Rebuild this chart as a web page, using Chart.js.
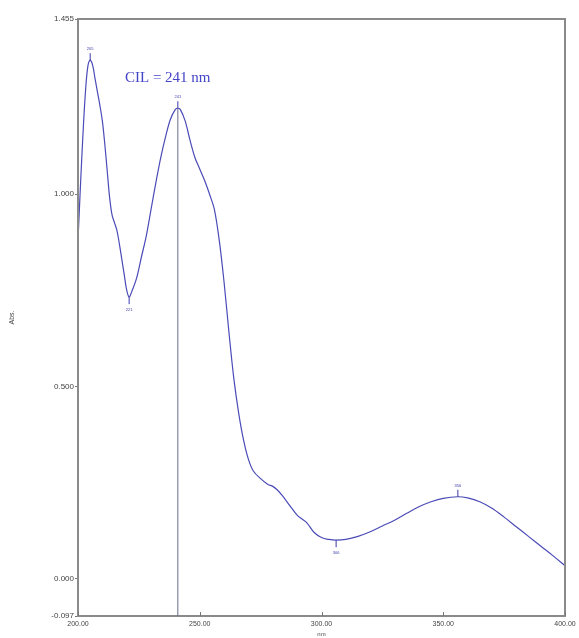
<!DOCTYPE html>
<html>
<head>
<meta charset="utf-8">
<script src="https://cdn.jsdelivr.net/npm/chart.js@4/dist/chart.umd.min.js"></script>
<style>
  html, body { margin: 0; padding: 0; background: #fff; }
  canvas { display: block; }
</style>
</head>
<body>
<canvas id="spec" width="579" height="638"></canvas>
<script>
// wavelength (nm) and absorbance
const wavelengths = [200, 201, 202, 203, 204, 205, 206, 207, 208, 209, 210, 211, 212, 213, 214, 215, 216, 217, 218, 219, 220, 221, 222, 224, 226, 228, 230, 232, 234, 236, 238, 240, 241, 242, 244, 246, 248, 250, 252, 254, 256, 258, 260, 262, 264, 266, 268, 270, 272, 275, 278, 280, 282, 284, 287, 290, 292, 294, 297, 300, 303, 306, 310, 315, 320, 325, 330, 335, 340, 345, 350, 356, 360, 365, 370, 375, 380, 385, 390, 395, 400];
const absorbance = [0.88, 1.02, 1.15, 1.26, 1.33, 1.348, 1.335, 1.30, 1.265, 1.23, 1.19, 1.13, 1.06, 0.99, 0.945, 0.925, 0.905, 0.87, 0.83, 0.79, 0.75, 0.732, 0.745, 0.78, 0.835, 0.89, 0.96, 1.03, 1.095, 1.15, 1.195, 1.22, 1.223, 1.22, 1.19, 1.14, 1.095, 1.065, 1.035, 1.0, 0.96, 0.88, 0.77, 0.64, 0.52, 0.43, 0.36, 0.31, 0.28, 0.26, 0.245, 0.24, 0.23, 0.215, 0.19, 0.165, 0.155, 0.145, 0.12, 0.107, 0.102, 0.10, 0.102, 0.11, 0.122, 0.137, 0.152, 0.17, 0.187, 0.20, 0.209, 0.213, 0.21, 0.20, 0.183, 0.16, 0.135, 0.11, 0.085, 0.06, 0.034];

const peakNm = [205, 241, 356];
const valleyNm = [221, 306];
const markedNm = 241;

const xTicks = [200, 250, 300, 350, 400];
const yTicks = [-0.097, 0, 0.5, 1.0, 1.455];

const points = wavelengths.map((w, i) => ({ x: w, y: absorbance[i] }));
const absAt = w => absorbance[wavelengths.indexOf(w)];

// frame, inward x ticks, peak marks and the 241 nm line
const extras = {
  id: 'extras',
  afterDatasetsDraw(chart) {
    const { ctx, chartArea: a, scales } = chart;
    const sx = scales.x, sy = scales.y;
    ctx.save();
    ctx.strokeStyle = '#8a8a8a';
    ctx.lineWidth = 2;
    ctx.strokeRect(a.left, a.top, a.right - a.left, a.bottom - a.top);

    // x ticks point up into the plot
    ctx.lineWidth = 1;
    ctx.strokeStyle = '#777';
    xTicks.forEach(v => {
      const px = Math.round(sx.getPixelForValue(v)) + 0.5;
      ctx.beginPath(); ctx.moveTo(px, a.bottom); ctx.lineTo(px, a.bottom - 4); ctx.stroke();
    });

    // vertical line at the marked wavelength
    ctx.strokeStyle = '#6a6a8a';
    const vx = sx.getPixelForValue(markedNm);
    ctx.beginPath();
    ctx.moveTo(vx, a.bottom);
    ctx.lineTo(vx, sy.getPixelForValue(absAt(markedNm)));
    ctx.stroke();

    ctx.strokeStyle = '#3a3aa8';
    ctx.fillStyle = '#3a3aa8';
    ctx.font = '4px sans-serif';
    ctx.textAlign = 'center';
    peakNm.forEach(w => {
      const px = sx.getPixelForValue(w), py = sy.getPixelForValue(absAt(w));
      ctx.beginPath(); ctx.moveTo(px, py); ctx.lineTo(px, py - 7); ctx.stroke();
      ctx.fillText(w.toFixed(0), px, py - 10);
    });
    valleyNm.forEach(w => {
      const px = sx.getPixelForValue(w), py = sy.getPixelForValue(absAt(w));
      ctx.beginPath(); ctx.moveTo(px, py); ctx.lineTo(px, py + 7); ctx.stroke();
      ctx.fillText(w.toFixed(0), px, py + 14);
    });

    ctx.fillStyle = '#4444c8';
    ctx.font = '15px "Liberation Serif", serif';
    ctx.textAlign = 'left';
    ctx.fillText('CIL = ' + markedNm + ' nm', 125, 82);
    ctx.restore();
  }
};

new Chart(document.getElementById('spec'), {
  type: 'line',
  data: {
    datasets: [{
      data: points,
      borderColor: '#4b4bb8',
      borderWidth: 1.2,
      pointRadius: 0,
      tension: 0.35,
      fill: false
    }]
  },
  options: {
    responsive: false,
    animation: false,
    layout: { padding: { top: 19, right: 14, left: 0, bottom: 0 } },
    plugins: { legend: { display: false }, tooltip: { enabled: false } },
    scales: {
      x: {
        type: 'linear',
        min: 200, max: 400,
        afterBuildTicks: s => { s.ticks = xTicks.map(v => ({ value: v })); },
        afterFit: s => { s.height = 22; },
        grid: { display: false, drawOnChartArea: false, tickLength: 3 },
        border: { display: true, color: '#8a8a8a', width: 2 },
        ticks: {
          color: '#444', font: { size: 7 }, padding: 1, maxRotation: 0,
          callback: v => Number(v).toFixed(2)
        },
        title: { display: true, text: 'nm', color: '#444', font: { size: 6 }, padding: 0 }
      },
      y: {
        min: -0.097, max: 1.455,
        afterBuildTicks: s => { s.ticks = yTicks.map(v => ({ value: v })); },
        afterFit: s => { s.width = 78; },
        grid: { display: true, drawOnChartArea: false, tickLength: 3, color: '#777' },
        border: { display: true, color: '#8a8a8a', width: 2 },
        ticks: {
          color: '#444', font: { size: 8 }, padding: 1,
          callback: v => Number(v).toFixed(3)
        },
        title: { display: true, text: 'Abs.', color: '#444', font: { size: 7 }, padding: { top: 8 } }
      }
    }
  },
  plugins: [extras]
});
</script>
</body>
</html>
